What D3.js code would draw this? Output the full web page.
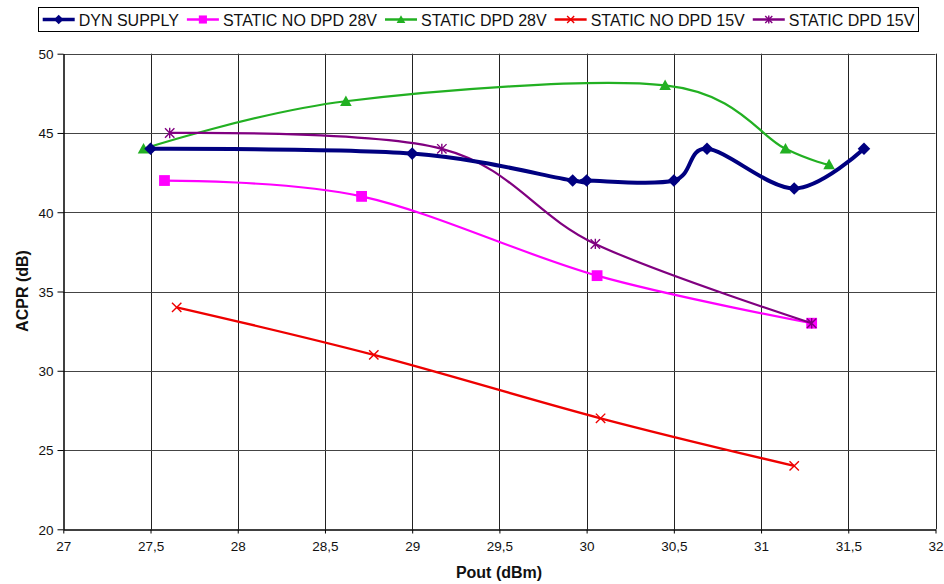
<!DOCTYPE html>
<html><head><meta charset="utf-8">
<script src="https://cdn.jsdelivr.net/npm/d3@7"></script>
<style>
html,body{margin:0;padding:0;background:#fff;}
svg{display:block;font-family:"Liberation Sans",Arial,sans-serif;}
</style></head>
<body>
<svg id="chart" width="944" height="584"></svg>
<script>
// ---------- data ----------
const seriesNames = ["DYN SUPPLY","STATIC NO DPD 28V","STATIC DPD 28V","STATIC NO DPD 15V","STATIC DPD 15V"];
const dynSupply   = [[27.5,44],[29.0,43.7],[29.92,42],[30.0,42],[30.5,42],[30.69,44],[31.19,41.5],[31.59,44]];
const staticNoDpd28 = [[27.58,42],[28.71,41],[30.06,36],[31.29,33]];
const staticDpd28   = [[27.46,44],[28.62,47],[30.45,48],[31.14,44],[31.39,43]];
const staticNoDpd15 = [[27.65,34],[28.78,31],[30.08,27],[31.19,24]];
const staticDpd15   = [[27.61,45],[29.17,44],[30.05,38],[31.29,33]];
const xTickValues = [27,27.5,28,28.5,29,29.5,30,30.5,31,31.5,32];
const xTickLabels = ["27","27,5","28","28,5","29","29,5","30","30,5","31","31,5","32"];
const yTickValues = [20,25,30,35,40,45,50];
const yTickLabels = ["20","25","30","35","40","45","50"];
const xTitle = "Pout (dBm)";
const yTitle = "ACPR (dB)";

// ---------- styles ----------
const styles = [
  {data:dynSupply,     color:"#000080", width:4,   marker:"diamond"},
  {data:staticNoDpd28, color:"#FF00FF", width:2.2, marker:"square"},
  {data:staticDpd28,   color:"#22B022", width:2.2, marker:"triangle"},
  {data:staticNoDpd15, color:"#EE0000", width:2.4, marker:"x"},
  {data:staticDpd15,   color:"#800080", width:2.2, marker:"star"}
];
const drawOrder = [2,1,3,4,0];

const svg = d3.select("#chart");
const x = d3.scaleLinear().domain([27,32]).range([63.3,935.5]);
const y = d3.scaleLinear().domain([20,50]).range([529.3,53.7]);

// grid
const grid = svg.append("g");
grid.selectAll("line.v").data(xTickValues.slice(1)).enter().append("line")
  .attr("x1",d=>Math.round(x(d))+0.5).attr("x2",d=>Math.round(x(d))+0.5)
  .attr("y1",y(50)).attr("y2",y(20)).attr("stroke","#222").attr("stroke-width",1);
grid.selectAll("line.h").data(yTickValues.slice(1)).enter().append("line")
  .attr("y1",d=>Math.round(y(d))+0.5).attr("y2",d=>Math.round(y(d))+0.5)
  .attr("x1",x(27)).attr("x2",x(32)).attr("stroke","#444").attr("stroke-width",1);

// axes
const xAxis = d3.axisBottom(x).tickValues(xTickValues).tickFormat((d,i)=>xTickLabels[i]).tickSizeInner(4).tickSizeOuter(0).tickPadding(5);
const yAxis = d3.axisLeft(y).tickValues(yTickValues).tickFormat((d,i)=>yTickLabels[i]).tickSizeInner(6).tickSizeOuter(0).tickPadding(4);
const gx = svg.append("g").attr("transform",`translate(0,${Math.round(y(20))+0.5})`).call(xAxis);
const gy = svg.append("g").attr("transform",`translate(${Math.round(x(27))+0.5},0)`).call(yAxis);
[gx,gy].forEach(g=>{
  g.select(".domain").attr("stroke","#000").attr("stroke-width",1.5);
  g.selectAll(".tick line").attr("stroke","#000");
  g.selectAll(".tick text").attr("fill","#111").style("font-size","13.5px").style("font-family","'Liberation Sans',Arial,sans-serif");
});
gx.selectAll(".tick text").attr("dy","0.9em");
gy.selectAll(".tick text").attr("dy","0.36em");

// titles
svg.append("text").attr("x",499).attr("y",578).attr("text-anchor","middle")
  .style("font-size","16px").style("font-weight","bold").attr("fill","#111").text(xTitle);
svg.append("text").attr("transform","translate(28,291) rotate(-90)").attr("text-anchor","middle")
  .style("font-size","16px").style("font-weight","bold").attr("fill","#111").text(yTitle);

// markers
function drawMarker(g, type, color, cx, cy, s){
  s = s || 1;
  if(type==="diamond"){
    const r=6.3*s;
    g.append("path").attr("d",`M${cx},${cy-r}L${cx+r},${cy}L${cx},${cy+r}L${cx-r},${cy}Z`).attr("fill",color);
  } else if(type==="square"){
    const r=5.4*s;
    g.append("rect").attr("x",cx-r).attr("y",cy-r).attr("width",2*r).attr("height",2*r).attr("fill",color);
  } else if(type==="triangle"){
    const r=5.8*s;
    g.append("path").attr("d",`M${cx},${cy-r}L${cx+r},${cy+r*0.8}L${cx-r},${cy+r*0.8}Z`).attr("fill",color);
  } else if(type==="x"){
    const r=4.7*s;
    g.append("path").attr("d",`M${cx-r},${cy-r}L${cx+r},${cy+r}M${cx+r},${cy-r}L${cx-r},${cy+r}`)
      .attr("stroke",color).attr("stroke-width",1.4).attr("fill","none");
  } else if(type==="star"){
    const r=4.7*s;
    g.append("path").attr("d",`M${cx-r},${cy-r}L${cx+r},${cy+r}M${cx+r},${cy-r}L${cx-r},${cy+r}M${cx},${cy-r*1.1}L${cx},${cy+r*1.1}`)
      .attr("stroke",color).attr("stroke-width",1.4).attr("fill","none");
  }
}

const line = d3.line().x(d=>x(d[0])).y(d=>y(d[1])).curve(d3.curveCardinal.tension(0));
const plot = svg.append("g");
drawOrder.forEach(i=>{
  const st = styles[i];
  const g = plot.append("g");
  g.append("path").attr("d",line(st.data)).attr("fill","none").attr("stroke",st.color)
    .attr("stroke-width",st.width).attr("stroke-linejoin","round");
  st.data.forEach(d=>drawMarker(g, st.marker, st.color, x(d[0]), y(d[1]), 1));
});

// legend
const leg = svg.append("g");
leg.append("rect").attr("x",38.5).attr("y",7.5).attr("width",880).attr("height",24)
  .attr("fill","#fff").attr("stroke","#000").attr("stroke-width",1);
let lx = 42.7;
styles.forEach((st,i)=>{
  const cy = 19.5;
  leg.append("line").attr("x1",lx).attr("x2",lx+32).attr("y1",cy).attr("y2",cy)
    .attr("stroke",st.color).attr("stroke-width",st.width===4?3.5:2.5);
  drawMarker(leg, st.marker, st.color, lx+16, cy, 0.75);
  const t = leg.append("text").attr("x",lx+36).attr("y",26.2).style("font-size","16px").attr("fill","#111").text(seriesNames[i]);
  lx = lx + 36 + t.node().getComputedTextLength() + 8;
});
</script>
</body></html>
